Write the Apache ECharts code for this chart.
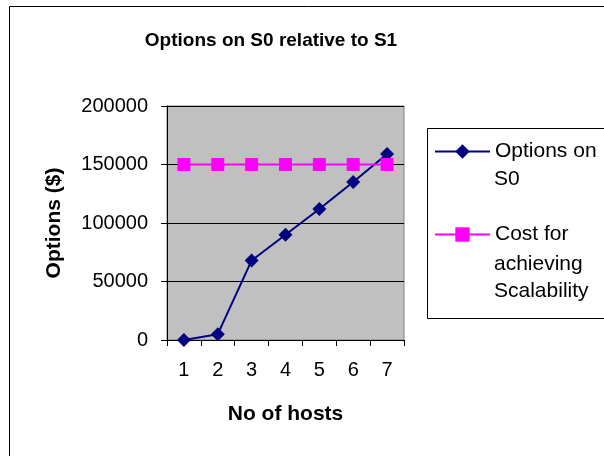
<!DOCTYPE html>
<html>
<head>
<meta charset="utf-8">
<script src="https://cdn.jsdelivr.net/npm/echarts@6/dist/echarts.min.js"></script>
<style>
html,body{margin:0;padding:0;background:#fff;}
#chart{width:604px;height:456px;}
</style>
</head>
<body>
<div id="chart"></div>
<script>
const categories = ['1','2','3','4','5','6','7'];
const optionsOnS0 = [0, 5000, 68000, 90000, 112000, 135000, 159000];
const costScalability = [150000, 150000, 150000, 150000, 150000, 150000, 150000];
const yTicks = [0, 50000, 100000, 150000, 200000];

const FONT = '"Liberation Sans", Arial, sans-serif';
const chart = echarts.init(document.getElementById('chart'), null, {renderer: 'canvas'});

chart.setOption({
  backgroundColor: '#ffffff',
  animation: false,
  title: {
    text: 'Options on S0 relative to S1',
    left: 271,
    textAlign: 'center',
    top: 31,
    padding: 0,
    textStyle: {fontFamily: FONT, fontSize: 19, fontWeight: 'bold', color: '#000'}
  },
  graphic: [
    {type: 'rect', z: -10, silent: true, shape: {x: 9.5, y: 6.5, width: 620, height: 470},
     style: {fill: '#fff', stroke: '#000', lineWidth: 1}},
    {type: 'rect', z: 1, silent: true, shape: {x: 427.5, y: 128.5, width: 200, height: 190},
     style: {fill: '#fff', stroke: '#000', lineWidth: 1}},
    {type: 'text', z: 2, left: 494, top: 179 - 13, silent: true,
     style: {text: 'S0', fontFamily: FONT, fontSize: 21, lineHeight: 27, fill: '#000'}},
    {type: 'text', z: 2, left: 494, top: 264 - 13, silent: true,
     style: {text: 'achieving\nScalability', fontFamily: FONT, fontSize: 21, lineHeight: 27, fill: '#000'}}
  ],
  legend: {
    orient: 'vertical',
    left: 434,
    top: 138,
    padding: 0,
    itemWidth: 55,
    itemHeight: 18,
    itemGap: 56,
    z: 5,
    data: ['Options on S0', 'Cost for achieving Scalability'],
    formatter: function (name) {
      return name === 'Options on S0' ? 'Options on' : 'Cost for';
    },
    textStyle: {fontFamily: FONT, fontSize: 21, lineHeight: 27, color: '#000', padding: [0, 0, 0, 0]}
  },
  grid: {
    left: 167, right: 200, top: 106, bottom: 116,
    show: true, backgroundColor: '#C0C0C0', borderColor: '#808080', borderWidth: 1
  },
  xAxis: {
    type: 'category',
    data: categories,
    boundaryGap: true,
    name: 'No of hosts',
    nameLocation: 'middle',
    nameGap: 64,
    nameTextStyle: {fontFamily: FONT, fontSize: 21, fontWeight: 'bold', color: '#000'},
    axisLine: {show: true, lineStyle: {color: '#000', width: 1}},
    axisTick: {show: true, interval: 0, length: 6, inside: false, lineStyle: {color: '#000'}},
    axisLabel: {interval: 0, margin: 20, fontFamily: FONT, fontSize: 20, color: '#000'},
    splitLine: {show: false}
  },
  yAxis: {
    type: 'value',
    min: yTicks[0],
    max: yTicks[yTicks.length - 1],
    interval: yTicks[1] - yTicks[0],
    name: 'Options ($)',
    nameLocation: 'middle',
    nameGap: 102,
    nameTextStyle: {fontFamily: FONT, fontSize: 21, fontWeight: 'bold', color: '#000'},
    axisLine: {show: true, lineStyle: {color: '#000', width: 1}},
    axisTick: {show: true, length: 6, lineStyle: {color: '#000'}},
    axisLabel: {margin: 19, fontFamily: FONT, fontSize: 20, color: '#000',
      formatter: function (v) { return String(v); }},
    splitLine: {show: true, lineStyle: {color: '#000', width: 1}}
  },
  series: [
    {
      name: 'Options on S0',
      type: 'line',
      data: optionsOnS0,
      symbol: 'diamond',
      symbolSize: 14,
      showAllSymbol: true,
      z: 3,
      itemStyle: {color: '#000080'},
      lineStyle: {color: '#000080', width: 2}
    },
    {
      name: 'Cost for achieving Scalability',
      type: 'line',
      data: costScalability,
      symbol: 'rect',
      symbolSize: 13,
      showAllSymbol: true,
      z: 4,
      itemStyle: {color: '#FF00FF'},
      lineStyle: {color: '#FF00FF', width: 2}
    }
  ]
});
</script>
</body>
</html>
